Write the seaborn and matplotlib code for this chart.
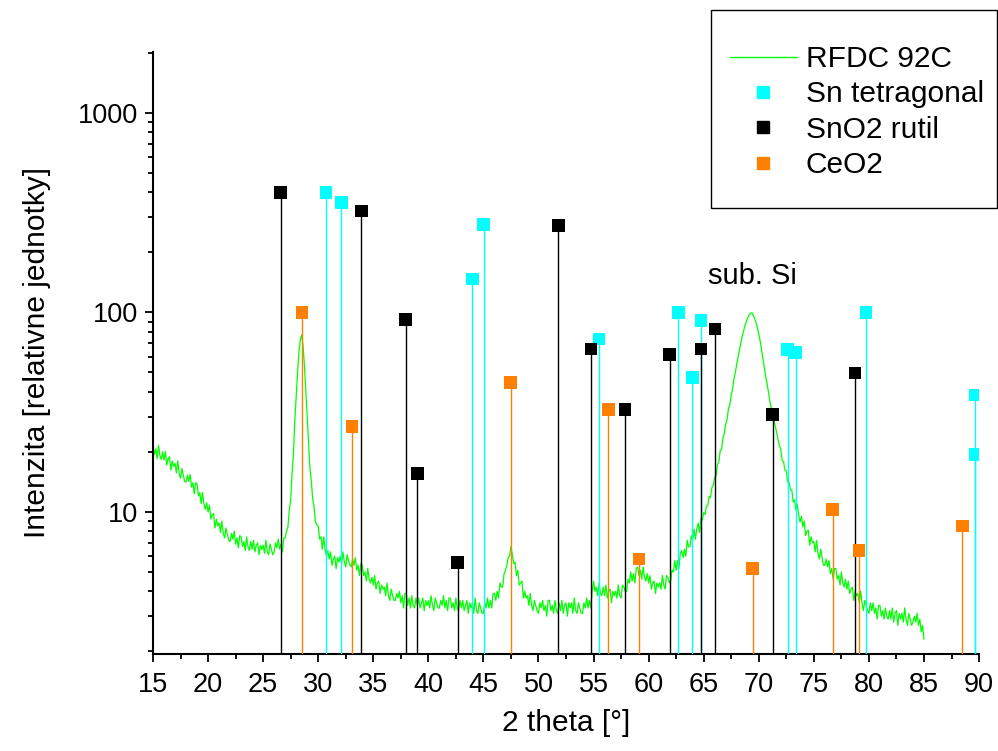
import numpy as np
import pandas as pd
import matplotlib
matplotlib.use("Agg")
import matplotlib.pyplot as plt
import seaborn as sns
from matplotlib.lines import Line2D
from matplotlib.patches import Rectangle
from matplotlib.ticker import FixedLocator, LogLocator, NullFormatter, FixedFormatter

# ---------------- data ----------------
scan_start, scan_step = 15.0, 0.125
rfdc_92c = [
    21.7, 19.4, 20.7, 18.5, 21.6, 19.2, 18.3, 20.0,   # 15
    18.2, 20.1, 17.2, 18.4, 18.9, 16.2, 18.0, 16.9,   # 16
    17.5, 15.7, 18.0, 15.6, 14.7, 16.5, 15.3, 14.2,   # 17
    14.1, 15.3, 14.2, 15.4, 13.3, 14.0, 12.3, 14.0,   # 18
    13.8, 12.0, 12.5, 11.0, 12.5, 11.0, 10.3, 11.1,   # 19
    10.0, 10.8, 9.2, 9.7, 9.8, 8.3, 9.2, 8.5,         # 20
    8.8, 7.9, 9.0, 7.8, 7.4, 8.3, 7.7, 7.2,           # 21
    7.1, 7.8, 7.3, 8.0, 6.9, 7.4, 6.6, 7.6,           # 22
    7.5, 6.7, 7.1, 6.4, 7.5, 6.7, 6.4, 7.1,           # 23
    6.5, 7.2, 6.3, 6.8, 7.0, 6.1, 6.8, 6.5,           # 24
    6.8, 6.2, 7.2, 6.3, 6.1, 6.9, 6.5, 6.1,           # 25
    6.3, 7.0, 6.6, 7.3, 6.5, 6.9, 6.3, 7.4,           # 26
    7.4, 8.0, 8.4, 10.2, 11.5, 15.5, 19.5, 28.5,      # 27
    38.0, 50.0, 63.0, 73.0, 77.0, 68.0, 54.0, 40.0,   # 28
    30.0, 22.5, 16.5, 14.3, 11.6, 10.6, 8.9, 8.6,     # 29
    8.5, 7.3, 7.5, 6.5, 7.5, 6.5, 6.0, 6.4,           # 30
    5.8, 6.3, 5.4, 5.8, 6.0, 5.2, 5.9, 5.6,           # 31
    6.0, 5.5, 6.3, 5.6, 5.3, 6.1, 5.7, 5.4,           # 32
    5.3, 5.8, 5.4, 5.9, 5.1, 5.4, 4.8, 5.5,           # 33
    5.4, 4.8, 5.0, 4.5, 5.2, 4.6, 4.4, 4.7,           # 34
    4.3, 4.8, 4.1, 4.4, 4.5, 3.9, 4.3, 4.1,           # 35
    4.2, 3.8, 4.4, 3.8, 3.6, 4.1, 3.8, 3.6,           # 36
    3.6, 3.9, 3.7, 4.0, 3.5, 3.8, 3.3, 3.9,           # 37
    3.9, 3.4, 3.7, 3.3, 3.8, 3.4, 3.3, 3.7,           # 38
    3.4, 3.7, 3.3, 3.5, 3.7, 3.2, 3.6, 3.4,           # 39
    3.6, 3.3, 3.8, 3.4, 3.2, 3.7, 3.5, 3.3,           # 40
    3.3, 3.6, 3.4, 3.8, 3.3, 3.6, 3.2, 3.7,           # 41
    3.7, 3.3, 3.5, 3.2, 3.7, 3.3, 3.2, 3.6,           # 42
    3.3, 3.6, 3.2, 3.4, 3.6, 3.1, 3.5, 3.3,           # 43
    3.5, 3.1, 3.7, 3.2, 3.1, 3.5, 3.3, 3.1,           # 44
    3.1, 3.5, 3.3, 3.7, 3.3, 3.6, 3.3, 3.9,           # 45
    3.9, 3.6, 4.0, 3.7, 4.4, 4.2, 4.2, 4.9,           # 46
    5.1, 5.4, 5.9, 6.0, 6.7, 6.1, 5.5, 5.6,           # 47
    4.8, 5.1, 4.3, 4.4, 4.5, 3.7, 4.0, 3.7,           # 48
    3.8, 3.4, 3.9, 3.4, 3.2, 3.6, 3.4, 3.2,           # 49
    3.1, 3.5, 3.3, 3.6, 3.2, 3.4, 3.0, 3.6,           # 50
    3.6, 3.2, 3.4, 3.1, 3.6, 3.2, 3.1, 3.5,           # 51
    3.2, 3.6, 3.1, 3.4, 3.5, 3.0, 3.5, 3.3,           # 52
    3.5, 3.1, 3.7, 3.2, 3.1, 3.5, 3.3, 3.1,           # 53
    3.1, 3.5, 3.3, 3.7, 3.3, 3.6, 3.3, 4.0,           # 54
    4.5, 4.0, 4.2, 3.8, 4.4, 3.9, 3.8, 4.2,           # 55
    3.8, 4.3, 3.7, 4.0, 4.1, 3.5, 4.0, 3.8,           # 56
    4.0, 3.7, 4.3, 3.8, 3.7, 4.3, 4.2, 4.0,           # 57
    4.0, 4.6, 4.4, 5.0, 4.5, 4.9, 4.4, 5.2,           # 58
    5.3, 4.8, 5.1, 4.6, 5.3, 4.7, 4.5, 4.9,           # 59
    4.4, 4.8, 4.1, 4.4, 4.5, 3.9, 4.4, 4.2,           # 60
    4.4, 4.1, 4.8, 4.3, 4.1, 4.8, 4.7, 4.4,           # 61
    4.5, 5.1, 5.0, 5.7, 5.1, 5.7, 5.2, 6.2,           # 62
    6.4, 5.9, 6.5, 6.0, 7.2, 6.7, 6.7, 7.6,           # 63
    7.2, 8.2, 7.3, 8.2, 8.8, 7.9, 9.3, 9.1,           # 64
    9.9, 9.7, 10.7, 10.8, 12.0, 11.8, 13.3, 13.6,     # 65
    14.9, 15.2, 17.3, 17.8, 20.3, 20.6, 23.5, 24.8,   # 66
    27.5, 29.0, 33.0, 34.5, 38.5, 41.5, 46.5, 50.0,   # 67
    55.0, 60.0, 65.0, 70.5, 76.0, 81.0, 86.0, 90.0,   # 68
    94.0, 97.0, 99.0, 99.5, 97.0, 93.0, 89.0, 84.0,   # 69
    78.0, 72.0, 65.0, 59.0, 53.0, 48.0, 44.0, 40.0,   # 70
    36.0, 33.5, 31.0, 29.0, 27.0, 25.0, 23.0, 21.5,   # 71
    20.6, 18.1, 17.9, 16.2, 16.1, 14.1, 14.1, 12.9,   # 72
    12.9, 11.2, 11.5, 10.2, 10.9, 9.6, 8.9, 9.5,      # 73
    8.4, 9.0, 7.6, 8.0, 8.1, 6.8, 7.5, 7.0,           # 74
    7.1, 6.3, 7.2, 6.2, 5.8, 6.5, 5.9, 5.4,           # 75
    5.4, 5.8, 5.3, 5.7, 4.9, 5.2, 4.6, 5.2,           # 76
    5.2, 4.6, 4.8, 4.3, 5.0, 4.4, 4.2, 4.6,           # 77
    4.1, 4.5, 3.9, 4.1, 4.2, 3.6, 4.0, 3.8,           # 78
    3.9, 3.5, 4.0, 3.5, 3.2, 3.6, 3.4, 3.2,           # 79
    3.1, 3.5, 3.2, 3.5, 3.1, 3.3, 2.9, 3.4,           # 80
    3.4, 3.0, 3.2, 2.9, 3.3, 3.0, 2.9, 3.2,           # 81
    2.9, 3.3, 2.8, 3.1, 3.2, 2.7, 3.1, 2.9,           # 82
    3.1, 2.8, 3.3, 2.9, 2.7, 3.1, 2.9, 2.7,           # 83
    2.8, 3.0, 2.8, 3.1, 2.7, 2.9, 2.5, 2.7,           # 84
    2.3,                                              # 85
]
two_theta = scan_start + scan_step * np.arange(len(rfdc_92c))

sn_x = [30.7, 32.1, 44.0, 45.03, 55.5, 62.7, 63.97, 64.76, 72.63, 73.35, 79.74, 89.64, 89.64]
sn_y = [398, 355, 147, 275, 73.5, 100, 47.1, 91, 64.9, 63.2, 100, 38.5, 19.4]
sno2_x = [26.6, 33.9, 37.94, 39.0, 42.67, 51.8, 54.77, 57.86, 61.92, 64.76, 66.03, 71.27, 78.74]
sno2_y = [400, 322, 92.5, 15.6, 5.57, 272, 65.6, 32.7, 61.4, 65.6, 82.6, 30.9, 49.7]
ceo2_x = [28.53, 33.07, 47.48, 56.35, 59.13, 69.45, 76.72, 79.1, 88.49]
ceo2_y = [100, 26.8, 44.6, 32.6, 5.8, 5.2, 10.3, 6.4, 8.5]

series_names = ["RFDC 92C", "Sn tetragonal", "SnO2 rutil", "CeO2"]
x_ticks = [15, 20, 25, 30, 35, 40, 45, 50, 55, 60, 65, 70, 75, 80, 85, 90]
y_ticks = [10, 100, 1000]
y_tick_labels = ["10", "100", "1000"]

# ---------------- style ----------------
sns.set_style("ticks")
plt.rcParams["font.family"] = ["Liberation Sans", "DejaVu Sans"]
plt.rcParams["text.color"] = "black"
plt.rcParams["axes.labelcolor"] = "black"
plt.rcParams["xtick.color"] = "black"
plt.rcParams["ytick.color"] = "black"

GREEN = "#00ff00"
CYAN = "#00ffff"
BLACK = "#000000"
ORANGE = "#ff8000"

fig = plt.figure(figsize=(9.98, 7.51), dpi=100)
ax = fig.add_axes([0.1533, 0.1292, 0.981 - 0.1533, 0.9308 - 0.1292])

y_bottom, y_top = 1.94, 2020

ax.set_yscale("log")

# measured curve
curve = pd.DataFrame({"x": two_theta, "y": rfdc_92c})
sns.lineplot(data=curve, x="x", y="y", ax=ax, color=GREEN, lw=0.9,
             sort=False, estimator=None, zorder=2)

# reference sticks
for xs, ys, col in [(sn_x, sn_y, CYAN), (sno2_x, sno2_y, BLACK), (ceo2_x, ceo2_y, ORANGE)]:
    ax.vlines(xs, y_bottom * 0.5, ys, colors=col, lw=1.0, zorder=3)
    sns.scatterplot(x=xs, y=ys, ax=ax, marker="s", s=85, color=col,
                    edgecolor="none", linewidth=0, zorder=4, legend=False)

ax.set_xlim(15, 90)
ax.set_ylim(y_bottom, y_top)

ax.xaxis.set_major_locator(FixedLocator(x_ticks))
ax.xaxis.set_minor_locator(FixedLocator([t + 2.5 for t in x_ticks[:-1]]))
ax.yaxis.set_major_locator(FixedLocator(y_ticks))
ax.yaxis.set_major_formatter(FixedFormatter(y_tick_labels))
ax.yaxis.set_minor_locator(LogLocator(base=10, subs=np.arange(2, 10)))
ax.yaxis.set_minor_formatter(NullFormatter())

ax.tick_params(axis="both", which="major", direction="out", length=6, width=1.3,
               labelsize=19.5, colors="black")
ax.tick_params(axis="both", which="minor", direction="out", length=3.5, width=1.3,
               colors="black")
ax.tick_params(axis="x", which="major", pad=7)
ax.tick_params(axis="y", which="major", pad=5)

for side in ["top", "right"]:
    ax.spines[side].set_visible(False)
for side in ["left", "bottom"]:
    ax.spines[side].set_linewidth(1.5)
    ax.spines[side].set_color("black")

ax.set_xlabel("2 theta [°]", fontsize=21.5, labelpad=8, color="black")
ax.set_ylabel("Intenzita [relativne jednotky]", fontsize=21.5, labelpad=19, color="black")

ax.text(69.4, 152, "sub. Si", fontsize=21, ha="center", va="center", color="black")

# legend
handles = [
    Line2D([], [], color=GREEN, lw=1.0),
    Line2D([], [], color=CYAN, marker="s", ls="none", markersize=9),
    Line2D([], [], color=BLACK, marker="s", ls="none", markersize=9),
    Line2D([], [], color=ORANGE, marker="s", ls="none", markersize=9),
]
fig.patches.append(Rectangle((711 / 998, 1 - 208 / 751), (997 - 711) / 998, (208 - 10) / 751,
                             transform=fig.transFigure, fill=False, edgecolor="black",
                             lw=1.0, zorder=10))
leg = fig.legend(handles, series_names, loc="upper left",
                 bbox_to_anchor=(730 / 998, 1 - 45 / 751), frameon=False,
                 fontsize=21.5, handlelength=2.24, handletextpad=0.3,
                 labelspacing=0.25, borderpad=0, borderaxespad=0)
for t in leg.get_texts():
    t.set_color("black")

fig.savefig("out.png", dpi=100)
